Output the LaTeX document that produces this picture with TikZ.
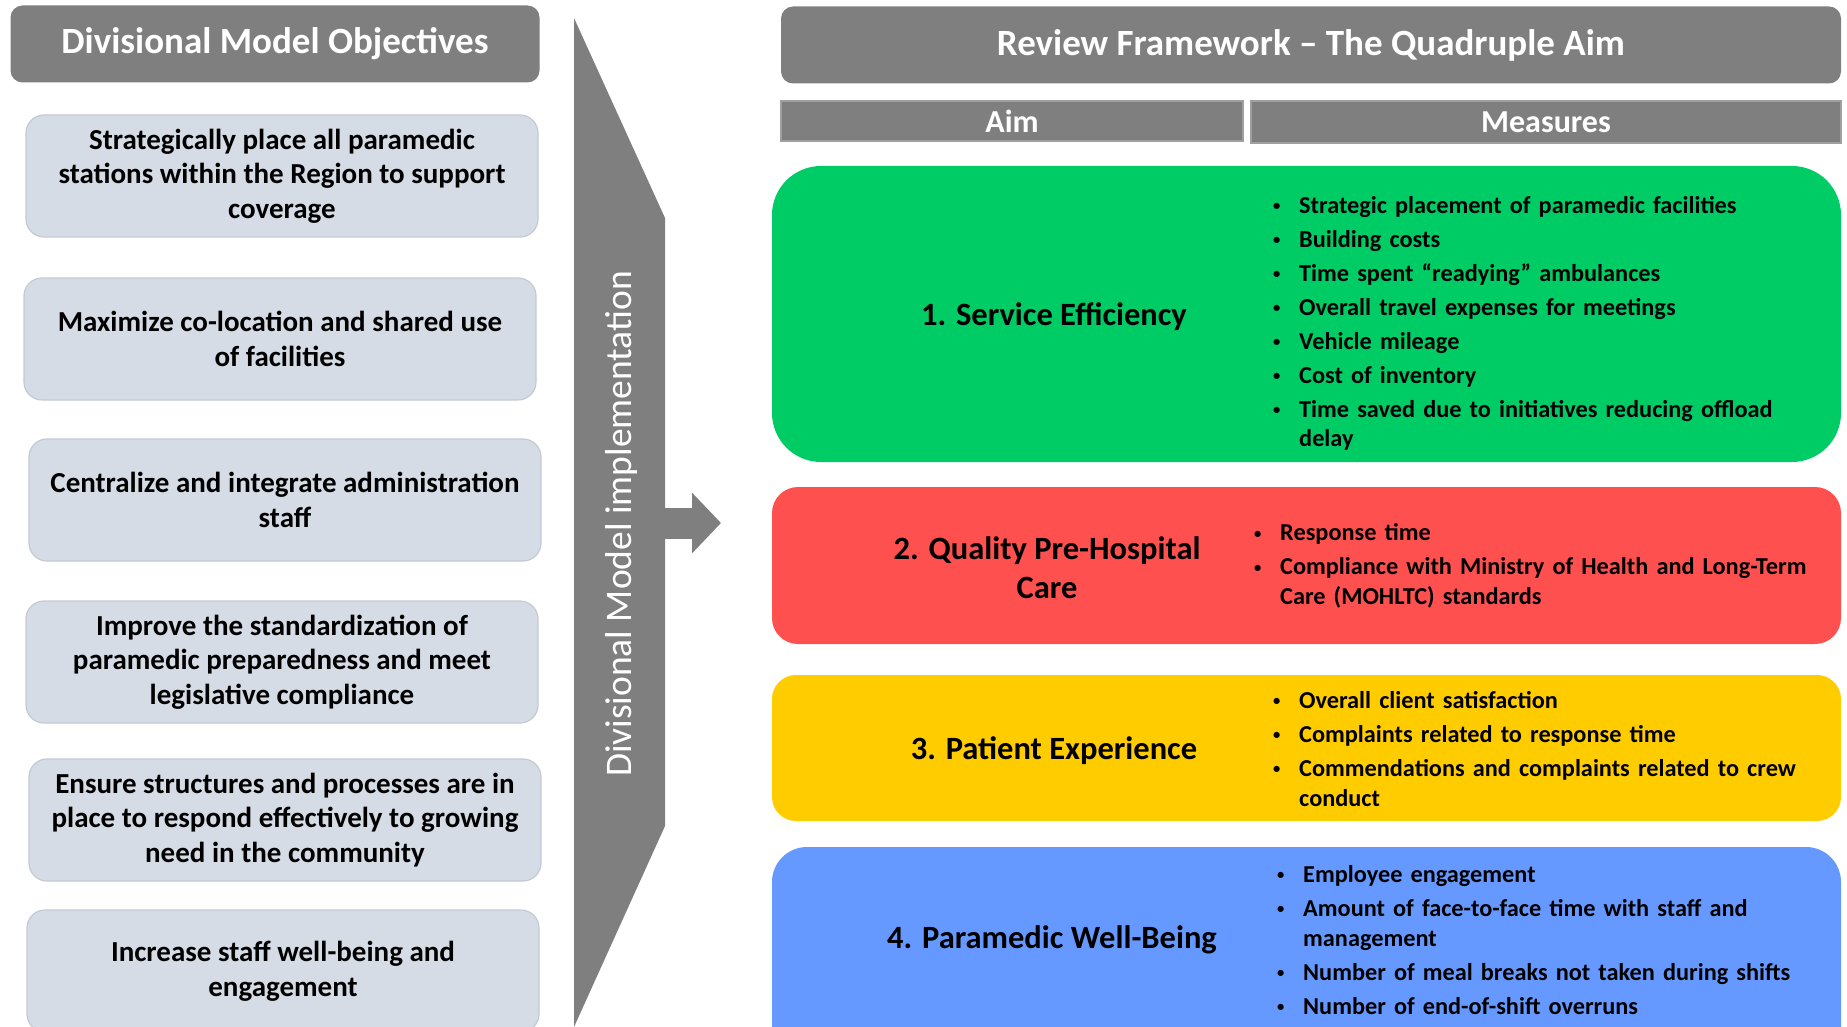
\documentclass[tikz,border=0pt]{standalone}
\usepackage{fontspec}
\setmainfont{Carlito}
\usetikzlibrary{arrows.meta,positioning}

\definecolor{hdgray}{HTML}{7F7F7F}
\definecolor{objfill}{HTML}{D6DCE5}
\definecolor{objline}{HTML}{C4CAD3}
\definecolor{aimgreen}{HTML}{00CC66}
\definecolor{aimred}{HTML}{FF5050}
\definecolor{aimyellow}{HTML}{FFCC00}
\definecolor{aimblue}{HTML}{6699FF}

% one bullet of a measures list, wrapped lines hang under the text
\newcommand{\bul}[1]{\hangindent=26pt\hangafter=1\noindent\makebox[26pt][l]{\raisebox{0.12em}{\scalebox{0.6}{\textbullet}}}#1\par}

\begin{document}
\begin{tikzpicture}[x=1pt,y=-1pt,
	header/.style={fill=hdgray,rounded corners=12pt,text=white,font=\fontsize{37}{44}\selectfont\bfseries,inner sep=0pt},
	colhead/.style={fill=hdgray,draw=hdgray!75,line width=2pt,text=white,font=\fontsize{32}{38}\selectfont\bfseries,inner sep=0pt},
	objective/.style={fill=objfill,draw=objline,line width=1.2pt,rounded corners=18pt,minimum width=512pt,minimum height=122pt,align=center,font=\fontsize{29}{34.7}\selectfont\bfseries},
	aimbox/.style={rounded corners=#1,minimum width=1069pt,inner sep=0pt},
	aimlabel/.style={align=center,font=\fontsize{32.5}{39}\selectfont\bfseries},
	measure/.style={anchor=west,inner sep=0pt,text width=560pt,align=left,font=\fontsize{24.3}{29.5}\selectfont\bfseries\setlength{\parskip}{4.5pt}}]

\useasboundingbox (0,0) rectangle (1847,1027);

% left column: objectives
\node[header,minimum width=529pt,minimum height=77pt]	(hdl) at (275,44)	{Divisional Model Objectives};

\node[objective]	(obj1) at (282,176)	{Strategically place all paramedic\\stations within the Region to support\\coverage};
\node[objective]	(obj2) at (280,339)	{Maximize co-location and shared use\\of facilities};
\node[objective]	(obj3) at (285,500)	{Centralize and integrate administration\\staff};
\node[objective]	(obj4) at (282,662)	{Improve the standardization of\\paramedic preparedness and meet\\legislative compliance};
\node[objective]	(obj5) at (285,820)	{Ensure structures and processes are in\\place to respond effectively to growing\\need in the community};
\node[objective]	(obj6) at (283,971)	{Increase staff well-being and\\engagement};

% implementation band with its arrow
\fill[hdgray] (574,18) -- (665,218) -- (665,826) -- (574,1027) -- cycle;
\node[rotate=90,text=white,font=\fontsize{37.5}{44}\selectfont]	(impl) at (621,524)	{Divisional Model implementation};
\coordinate (impl out) at (660,523);
\coordinate (impl tip) at (721,523);
\draw[hdgray,line width=31pt,-{Triangle[length=29pt,width=59pt]}] (impl out) -- (impl tip);

% right column: quadruple aim
\node[header,minimum width=1060pt,minimum height=77pt]	(hdr) at (1311,45)	{Review Framework -- The Quadruple Aim};
\node[colhead,minimum width=462pt,minimum height=40pt]	(aim) at (1012,121)	{Aim};
\node[colhead,minimum width=590pt,minimum height=42pt]	(meas) at (1546,122)	{Measures};

\node[aimbox=49pt,fill=aimgreen,minimum height=296pt]	(b1) at (1306.5,314)	{};
\node[aimbox=26pt,fill=aimred,minimum height=157pt]	(b2) at (1306.5,565.5)	{};
\node[aimbox=24pt,fill=aimyellow,minimum height=146pt]	(b3) at (1306.5,748)	{};
\node[aimbox=35pt,fill=aimblue,minimum height=220pt]	(b4) at (1306.5,957)	{};

\node[aimlabel]	(a1) at (1054,317)	{1. Service Efficiency};
\node[aimlabel]	(a2) at (1047,568)	{2. Quality Pre-Hospital\\Care};
\node[aimlabel]	(a3) at (1054,751)	{3. Patient Experience};
\node[aimlabel]	(a4) at (1052,940)	{4. Paramedic Well-Being};

\node[measure]	(m1) at (1273,323.5)	{%
	\bul{Strategic placement of paramedic facilities}
	\bul{Building costs}
	\bul{Time spent \textquotedblleft readying\textquotedblright\ ambulances}
	\bul{Overall travel expenses for meetings}
	\bul{Vehicle mileage}
	\bul{Cost of inventory}
	\bul{Time saved due to initiatives reducing offload\newline delay}};
\node[measure]	(m2) at (1254,566)	{%
	\bul{Response time}
	\bul{Compliance with Ministry of Health and Long-Term\newline Care (MOHLTC) standards}};
\node[measure]	(m3) at (1273,749)	{%
	\bul{Overall client satisfaction}
	\bul{Complaints related to response time}
	\bul{Commendations and complaints related to crew\newline conduct}};
\node[measure]	(m4) at (1277,940)	{%
	\bul{Employee engagement}
	\bul{Amount of face-to-face time with staff and\newline management}
	\bul{Number of meal breaks not taken during shifts}
	\bul{Number of end-of-shift overruns}};

\end{tikzpicture}
\end{document}
